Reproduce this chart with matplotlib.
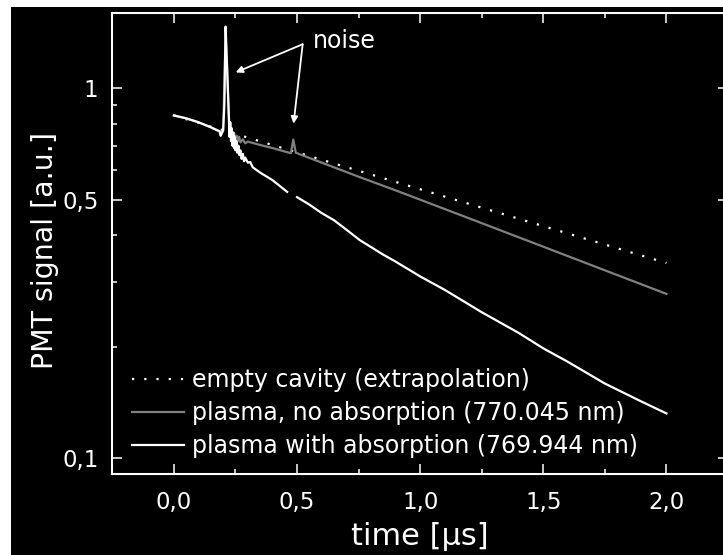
import numpy as np
import matplotlib
matplotlib.use("Agg")
from matplotlib import pyplot as plt
from matplotlib.patches import Rectangle
from matplotlib.ticker import FixedLocator, FixedFormatter, NullFormatter

# empty cavity, extrapolated straight decay (log scale)
t_empty = [0.0, 2.0]
v_empty = [0.845, 0.337]

# plasma, no absorption (770.045 nm)
t_noabs = [0.0, 0.05, 0.10, 0.15, 0.186, 0.19, 0.20, 0.21, 0.225, 0.235,
           0.24, 0.245, 0.25, 0.255, 0.26, 0.265, 0.27, 0.28, 0.29, 0.30,
           0.35, 0.40, 0.45, 0.475, 0.485, 0.495, 0.52, 0.60, 0.75, 0.90,
           1.0, 1.25, 1.5, 1.75, 2.0]
v_noabs = [0.845, 0.83, 0.81, 0.785, 0.765, 0.745, 0.77, 1.40, 0.80, 0.76,
           0.735, 0.755, 0.725, 0.745, 0.72, 0.74, 0.715, 0.728, 0.71, 0.718,
           0.703, 0.69, 0.675, 0.668, 0.727, 0.67, 0.66, 0.63, 0.577, 0.53,
           0.50, 0.432, 0.373, 0.322, 0.278]

# plasma with absorption (769.944 nm), nan = gap in trace
t_abs = [0.0, 0.05, 0.10, 0.15, 0.186, 0.19, 0.20, 0.205, 0.21, 0.215,
         0.222, 0.226, 0.229, 0.232, 0.235, 0.238, 0.241, 0.244, 0.247, 0.25,
         0.254, 0.258, 0.262, 0.266, 0.27, 0.275, 0.28, 0.285, 0.29, 0.30,
         0.31, 0.32, 0.35, 0.40, 0.46, 0.48, 0.50, 0.55, 0.60, 0.65,
         0.70, 0.754, 0.85, 0.90, 1.0, 1.1, 1.25, 1.4, 1.5, 1.6,
         1.75, 1.9, 2.0]
v_abs = [0.845, 0.83, 0.81, 0.785, 0.765, 0.745, 0.77, 0.90, 1.47, 1.20,
         0.88, 0.74, 0.81, 0.72, 0.78, 0.70, 0.76, 0.69, 0.74, 0.68,
         0.72, 0.67, 0.70, 0.66, 0.68, 0.645, 0.665, 0.635, 0.65, 0.63,
         0.632, 0.612, 0.592, 0.565, 0.525, np.nan, 0.508, 0.485, 0.46, 0.44,
         0.415, 0.389, 0.355, 0.34, 0.31, 0.285, 0.248, 0.218, 0.198, 0.182,
         0.159, 0.142, 0.132]

labels = ["empty cavity (extrapolation)",
          "plasma, no absorption (770.045 nm)",
          "plasma with absorption (769.944 nm)"]

y_major = [0.1, 0.5, 1.0]
y_major_labels = ["0,1", "0,5", "1"]
y_minor = [0.09, 0.2, 0.3, 0.4, 0.6, 0.7, 0.8, 0.9]
x_major = [0.0, 0.5, 1.0, 1.5, 2.0]
x_major_labels = ["0,0", "0,5", "1,0", "1,5", "2,0"]
x_minor = [-0.25, 0.25, 0.75, 1.25, 1.75]

plt.rcParams['font.family'] = ['DejaVu Sans']

fig = plt.figure(figsize=(7.23, 5.55), dpi=100, facecolor='white')
# black plate, white strip left and top as in the scan
fig.patches.append(Rectangle((11 / 723, 0), 1, 548 / 555, transform=fig.transFigure,
                             facecolor='black', edgecolor='none', zorder=-10))

ax = fig.add_axes([112.3 / 723, 1 - 474 / 555, 615.7 / 723, 461 / 555])
ax.set_facecolor('black')

ax.plot(t_empty, v_empty, color='white', lw=1.6, linestyle=(0, (1, 4.5)),
        label=labels[0])
ax.plot(t_noabs, v_noabs, color='#808080', lw=1.6, label=labels[1])
ax.plot(t_abs, v_abs, color='white', lw=1.6, label=labels[2])

ax.set_yscale('log')
ax.set_xlim(-0.25, 2.25)
ax.set_ylim(0.0905, 1.6)

ax.yaxis.set_major_locator(FixedLocator(y_major))
ax.yaxis.set_major_formatter(FixedFormatter(y_major_labels))
ax.yaxis.set_minor_locator(FixedLocator(y_minor))
ax.yaxis.set_minor_formatter(NullFormatter())
ax.xaxis.set_major_locator(FixedLocator(x_major))
ax.xaxis.set_major_formatter(FixedFormatter(x_major_labels))
ax.xaxis.set_minor_locator(FixedLocator(x_minor))

for s in ax.spines.values():
    s.set_color('white')
    s.set_linewidth(1.5)
ax.tick_params(which='both', direction='in', top=True, right=True,
               colors='white', width=1.1, labelsize=16.5)
ax.tick_params(axis='x', pad=12)
ax.tick_params(axis='y', pad=10)
ax.tick_params(which='major', length=7)
ax.tick_params(which='minor', length=3.5)

ax.set_xlabel(u"time [\u03bcs]", color='white', fontsize=22, labelpad=6)
ax.set_ylabel("PMT signal [a.u.]", color='white', fontsize=20.5, labelpad=1)
ax.yaxis.set_label_coords(-0.087, 0.485)

# noise arrows
ax.annotate('', xy=(0.251, 1.105), xytext=(0.523, 1.317),
            arrowprops=dict(arrowstyle='-|>', color='white', lw=1.3,
                            mutation_scale=10, shrinkA=0, shrinkB=0))
ax.annotate('', xy=(0.486, 0.803), xytext=(0.523, 1.317),
            arrowprops=dict(arrowstyle='-|>', color='white', lw=1.3,
                            mutation_scale=10, shrinkA=0, shrinkB=0))
ax.text(0.563, 1.34, "noise", color='white', fontsize=17, va='center', ha='left')

leg = ax.legend(loc='lower left', bbox_to_anchor=(0.032, 0.035), frameon=False,
                fontsize=17, handlelength=2.2, handletextpad=0.35,
                labelspacing=0.38, borderpad=0, borderaxespad=0)
for txt in leg.get_texts():
    txt.set_color('white')

fig.savefig('out.png', dpi=100, facecolor=fig.get_facecolor())
